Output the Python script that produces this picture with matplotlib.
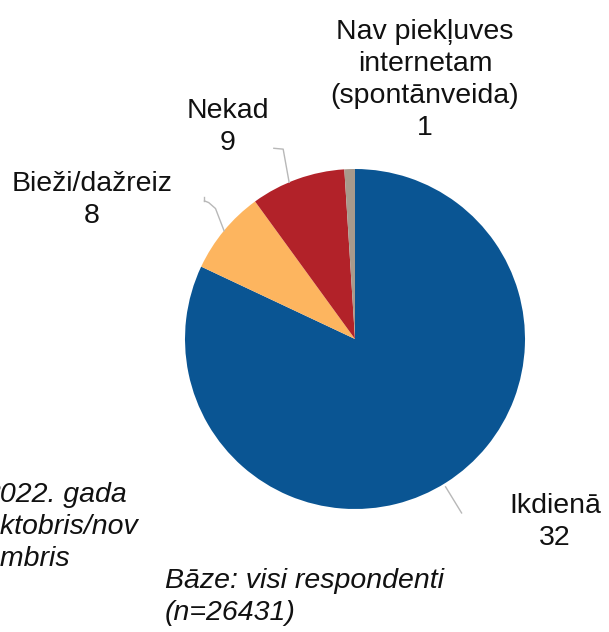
import numpy as np
import matplotlib
matplotlib.use("Agg")
import matplotlib.pyplot as plt

categories = ["Ikdienā", "Bieži/dažreiz", "Nekad", "Nav piekļuves\ninternetam\n(spontānveida)"]
values = [82, 8, 9, 1]
value_labels = ["32", "8", "9", "1"]
colors = ["#0A5593", "#FDB55F", "#B22229", "#A89A8C"]
footnote_left = "2022. gada\noktobris/nov\nembris"
footnote_base = "Bāze: visi respondenti\n(n=26431)"

W, H = 609, 632
fig = plt.figure(figsize=(W / 100, H / 100), dpi=100)
plt.rcParams['font.family'] = ['Liberation Sans', 'DejaVu Sans']

cx, cy, R = 355, 339, 170
ax = fig.add_axes([(cx - R) / W, (H - cy - R) / H, 2 * R / W, 2 * R / H])
wedges, _ = ax.pie(values, colors=colors, startangle=90, counterclock=False,
                   radius=1, wedgeprops=dict(linewidth=0))
ax.set_xlim(-1, 1)
ax.set_ylim(-1, 1)
ax.set_aspect('equal')
ax.axis('off')

def px(x, y):
    return x / W, 1 - y / H

fs = 20.5
ls = 1.31
label_pos = {
    0: (555, 522),
    1: (92, 200),
    2: (228, 127),
    3: (425, 80),
}
for i, (cat, val) in enumerate(zip(categories, value_labels)):
    x, y = label_pos[i]
    fig.text(*px(x, y), f"{cat}\n{val}", ha='center', va='center', fontsize=fs,
             linespacing=ls, color='#111111')

lc = '#B8B8B8'
def edge_point(theta_deg, r=1.0):
    t = np.deg2rad(theta_deg)
    return r * np.cos(t), r * np.sin(t)

# Ikdienā
ang = -58.5
x0, y0 = edge_point(ang, 1.02)
x1, y1 = edge_point(ang, 1.2)
ax.plot([x0, x1], [y0, y1], color=lc, lw=1, clip_on=False)
# Bieži
w = wedges[1]
mid = 0.5 * (w.theta1 + w.theta2)
x0, y0 = edge_point(mid, 1.0)
x1, y1 = x0 - 0.05, y0 + 0.13
ax.plot([x0, x1, x1 - 0.04, x1 - 0.065], [y0, y1, y1 + 0.035, y1 + 0.045],
        color=lc, lw=1, clip_on=False)
ax.plot([x1 - 0.065, x1 - 0.065], [y1 + 0.045, y1 + 0.07], color=lc, lw=1, clip_on=False)
# Nekad
w = wedges[2]
mid = 0.5 * (w.theta1 + w.theta2)
x0, y0 = edge_point(mid + 3, 1.0)
ax.plot([x0, x0 - 0.035, x0 - 0.09], [y0, y0 + 0.195, y0 + 0.2], color=lc, lw=1, clip_on=False)

fig.text(*px(-16, 527), footnote_left, ha='left', va='center', fontsize=fs,
         style='italic', linespacing=ls, color='#111111')
fig.text(*px(165, 597), footnote_base, ha='left', va='center', fontsize=fs,
         style='italic', linespacing=ls, color='#111111')

fig.savefig("out.png", dpi=100)
